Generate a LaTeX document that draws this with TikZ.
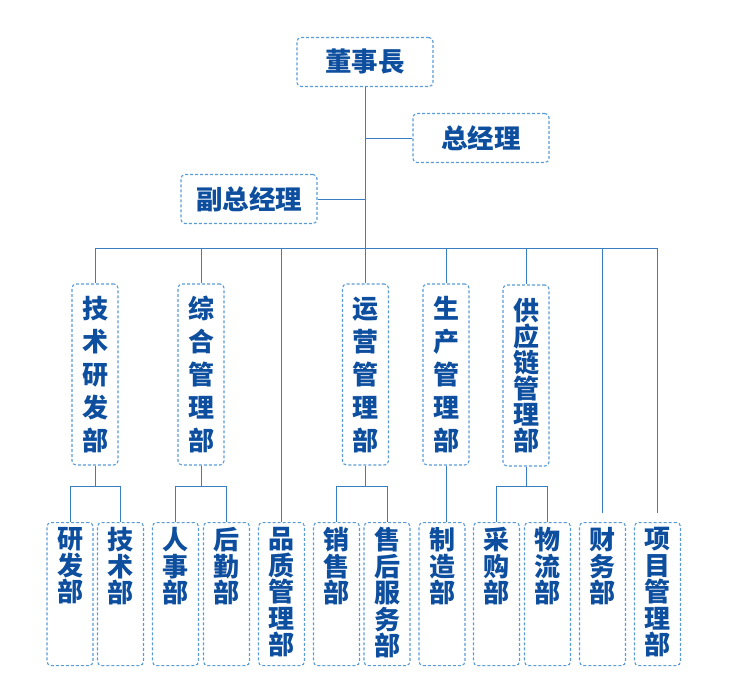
\documentclass[tikz,border=0pt]{standalone}
\usepackage{fontspec}
\newfontfamily\cjk{Noto Sans CJK SC}
\usetikzlibrary{positioning, calc}

\definecolor{orgtext}{HTML}{0D4E9E}
\definecolor{orgedge}{HTML}{5B9BD5}
\definecolor{orgline}{HTML}{3A7EC2}

\newcommand{\unitcol}[1]{\parbox[c][133pt][t]{30pt}{\centering\fontsize{26}{26.5}\selectfont #1}}

\begin{document}
\begin{tikzpicture}[
    x=1pt, y=-1pt,
    head/.style={rectangle, rounded corners=4pt, draw=orgedge, dash pattern=on 3pt off 2pt, line width=1.1pt, text=orgtext, minimum width=136pt, minimum height=49pt, font=\cjk\bfseries\fontsize{26.5}{30}\selectfont},
    dept/.style={rectangle, rounded corners=4pt, draw=orgedge, dash pattern=on 3pt off 2pt, line width=1.1pt, text=orgtext, minimum width=46pt, minimum height=181pt, inner xsep=0pt, align=center, font=\cjk\bfseries\fontsize{26}{33}\selectfont},
    unit/.style={rectangle, rounded corners=4pt, draw=orgedge, dash pattern=on 3pt off 2pt, line width=1.1pt, text=orgtext, minimum width=46pt, minimum height=143pt, inner xsep=0pt, inner ysep=5pt, anchor=north, font=\cjk\bfseries},
    link/.style={draw=orgline, line width=0.9pt}
]
\useasboundingbox (0,0) rectangle (732,695);

% Top level
\node[head] (dsz) at (365,62) {董事長};
\node[head] (zjl) at (481,138) {总经理};
\node[head] (fzjl) at (249,199) {副总经理};
\coordinate (bus) at (365,248);

\draw[link] (dsz.south) -- (bus);
\draw[link] (zjl.west) -- (zjl.west -| bus);
\draw[link] (fzjl.east) -- (fzjl.east -| bus);

% Departments
\node[dept] (jsyf) at (95,374.5) {技\\术\\研\\发\\部};
\node[dept] (zhgl) at (201,374.5) {综\\合\\管\\理\\部};
\node[dept] (yygl) at (365.5,374.5) {运\\营\\管\\理\\部};
\node[dept] (scgl) at (446,374.5) {生\\产\\管\\理\\部};
\node[dept, font=\cjk\bfseries\fontsize{26}{26}\selectfont] (gyl) at (526,375.5) {供\\应\\链\\管\\理\\部};

% Units
\node[unit] (yanfa) at (70,522) {\unitcol{研\\发\\部}};
\node[unit] (jishu) at (120.5,522) {\unitcol{技\\术\\部}};
\node[unit] (renshi) at (175.5,522) {\unitcol{人\\事\\部}};
\node[unit] (houqin) at (226.5,522) {\unitcol{后\\勤\\部}};
\node[unit] (pzgl) at (281.5,522) {\unitcol{品\\质\\管\\理\\部}};
\node[unit] (xiaoshou) at (336.5,522) {\unitcol{销\\售\\部}};
\node[unit] (shouhou) at (387,522) {\unitcol{售\\后\\服\\务\\部}};
\node[unit] (zhizao) at (442,522) {\unitcol{制\\造\\部}};
\node[unit] (caigou) at (496.5,522) {\unitcol{采\\购\\部}};
\node[unit] (wuliu) at (547.5,522) {\unitcol{物\\流\\部}};
\node[unit] (caiwu) at (602.5,522) {\unitcol{财\\务\\部}};
\node[unit] (xmgl) at (657.5,522) {\unitcol{项\\目\\管\\理\\部}};

% Bus drops
\foreach \d in {jsyf, zhgl, yygl, scgl, gyl, pzgl}
  \draw[link] (\d.north) |- (bus);
\draw[link, shorten <=9pt] (caiwu.north) |- (bus);
\draw[link, shorten <=9pt] (xmgl.north) |- (bus);

% Forks
\draw[link] (jsyf.south) -- ++(0,21) coordinate (jsyf-fork);
\draw[link] (yanfa.north) |- (jsyf-fork) -| (jishu.north);
\draw[link] (zhgl.south) -- ++(0,21) coordinate (zhgl-fork);
\draw[link] (renshi.north) |- (zhgl-fork) -| (houqin.north);
\draw[link] (yygl.south) -- ++(0,21) coordinate (yygl-fork);
\draw[link] (xiaoshou.north) |- (yygl-fork) -| (shouhou.north);
\draw[link] (gyl.south) -- ++(0,20) coordinate (gyl-fork);
\draw[link] (caigou.north) |- (gyl-fork) -| (wuliu.north);
\draw[link] (scgl.south) -- (scgl.south |- zhizao.north);

\end{tikzpicture}
\end{document}
